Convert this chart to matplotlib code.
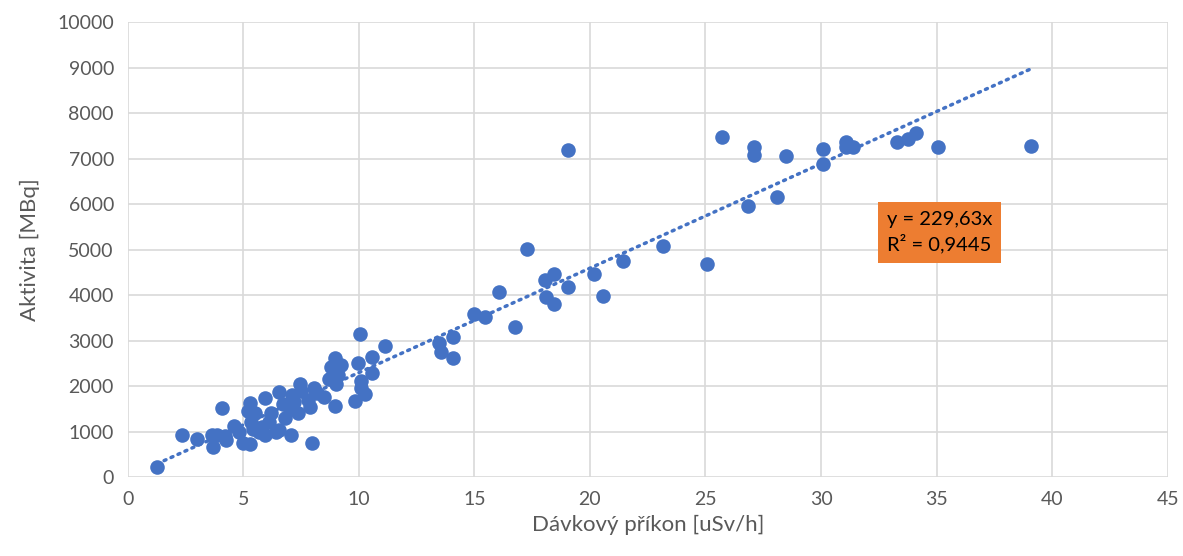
import matplotlib
matplotlib.use("Agg")
import matplotlib.pyplot as plt
import numpy as np

# Dávkový příkon [uSv/h] vs Aktivita [MBq]
dose = [1.27, 2.34, 2.99, 3.64, 3.68, 3.85, 4.07, 4.26, 4.2, 4.59, 4.8, 5.0, 5.27, 5.27,
        5.2, 5.35, 5.4, 5.5, 5.7, 5.92, 5.96, 5.8, 6.1, 6.2, 6.4, 6.56, 6.56, 6.7, 6.8,
        7.07, 7.0, 7.1, 7.2, 7.36, 7.47, 7.5, 7.8, 7.97, 7.9, 8.08, 8.2, 8.51, 8.7,
        8.8, 8.8, 8.95, 8.97, 9.0, 9.1, 9.24, 9.84, 9.96, 10.06, 10.1, 10.1, 10.27,
        10.58, 10.58, 11.15, 13.48, 13.54, 14.06, 14.06, 14.98, 15.47, 16.07, 16.77,
        17.26, 18.05, 18.08, 18.46, 18.46, 19.06, 19.05, 20.17, 20.55, 21.44, 23.17,
        25.08, 25.7, 26.85, 27.1, 27.1, 28.08, 28.5, 30.07, 30.07, 31.08, 31.1, 31.4,
        33.28, 33.78, 34.1, 35.05, 39.08]
activity = [226, 923, 828, 923, 666, 920, 1523, 813, 900, 1121, 1000, 750, 1619, 736,
            1450, 1200, 1050, 1400, 1000, 923, 1744, 1100, 1200, 1400, 1000, 1875, 1033,
            1600, 1300, 923, 1500, 1800, 1650, 1400, 2055, 1900, 1700, 740, 1550, 1949,
            1850, 1766, 2150, 2430, 2175, 2608, 1560, 2055, 2250, 2460, 1677, 2500, 3143,
            2110, 1950, 1824, 2630, 2280, 2879, 2938, 2754, 3084, 2623, 3582, 3524, 4066,
            3304, 5011, 4330, 3963, 4455, 3802, 4183, 7187, 4462, 3978, 4754, 5084, 4681,
            7466, 5956, 7246, 7077, 6161, 7062, 7209, 6894, 7370, 7246, 7246, 7370, 7429,
            7554, 7260, 7282]
slope = 229.63
r2 = 0.9445

blue = "#4472C4"
grey = "#595959"
plt.rcParams["font.family"] = ["Lato", "DejaVu Sans"]

fig = plt.figure(figsize=(11.83, 5.56), dpi=100)
ax = fig.add_axes([0.108, 0.142, 0.879, 0.818])

ax.scatter(dose, activity, s=110, color=blue, zorder=3, linewidths=0)
xt = np.array([min(dose), max(dose)])
ax.plot(xt, slope * xt, color=blue, lw=2.5, ls=(0, (0.6, 1.6)), dash_capstyle="round", zorder=2)

ax.set_xlim(0, 45); ax.set_ylim(0, 10000)
ax.set_xticks(range(0, 46, 5)); ax.set_yticks(range(0, 10001, 1000))
ax.grid(True, color="#D9D9D9", lw=1.2, zorder=0)
ax.set_axisbelow(True)
for s in ax.spines.values():
    s.set_visible(False)
ax.tick_params(length=0, labelsize=14, labelcolor=grey, pad=10)
ax.set_xlabel("Dávkový příkon [uSv/h]", fontsize=16, color=grey, labelpad=5)
ax.set_ylabel("Aktivita [MBq]", fontsize=16, color=grey, labelpad=12)

ax.text(32.85, 5380, f"y = {slope:.2f}x\nR² = {r2:.4f}".replace(".", ","), fontsize=14.5,
        color="black", va="center", ha="left", linespacing=1.35,
        bbox=dict(boxstyle="square,pad=0.45", fc="#ED7D31", ec="none"))

fig.savefig("out.png", dpi=100)
